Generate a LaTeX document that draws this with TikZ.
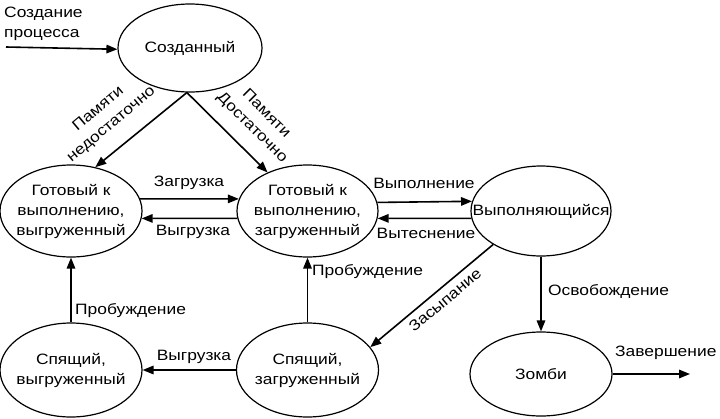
\documentclass[tikz,border=0pt]{standalone}
\usepackage{fontspec}
\setmainfont{Liberation Sans}[FakeStretch=1.16]
\usetikzlibrary{arrows.meta,shapes.geometric}
\newcommand\dfont{\fontsize{15}{20}\selectfont}
\begin{document}
\begin{tikzpicture}[x=1pt,y=-1pt,
  state/.style={ellipse,draw,line width=1.2pt,inner xsep=-40pt,inner ysep=-25pt,align=center,font=\dfont},
  conn/.style={line width=1.6pt,-{Triangle[length=11pt,width=8.5pt]}},
  lab/.style={font=\dfont,inner sep=1pt,align=center}]
\useasboundingbox (0,0) rectangle (720,418);
\fill[white] (0,0) rectangle (720,418);
% states
\node[state,minimum width=144pt,minimum height=88pt] (cr) at (190,48) {Созданный};
\node[state,minimum width=142pt,minimum height=92pt] (rdu) at (71,211) {Готовый к\\выполнению,\\выгруженный};
\node[state,minimum width=141pt,minimum height=92pt] (rdl) at (307.5,211) {Готовый к\\выполнению,\\загруженный};
\node[state,minimum width=140pt,minimum height=90pt] (run) at (541,211) {Выполняющийся};
\node[state,minimum width=142pt,minimum height=94pt] (slu) at (71,370) {Спящий,\\выгруженный};
\node[state,minimum width=142pt,minimum height=94pt] (sll) at (307.5,370) {Спящий,\\загруженный};
\node[state,minimum width=142pt,minimum height=84pt] (zom) at (541,374) {Зомби};
% free ends
\coordinate (st) at (6,47);
\coordinate (zend) at (690,374);
% connectors
\draw[conn] (st) -- (cr.181);
\draw[conn] (cr.266) -- (rdu.61);
\draw[conn] (cr.266) -- (rdl.136);
\draw[conn] (rdu.10) -- (rdl.170);
\draw[conn] (rdl.186) -- (rdu.-6);
\draw[conn] (rdl.7.4) -- (run.172.6);
\draw[conn] (run.186.6) -- (rdl.-6.5);
\draw[conn] (run.215.3) -- (sll.20);
\draw[conn] (run.south) -- (zom.north);
\draw[conn] (zom.east) -- (zend);
\draw[conn] (sll.north) -- (rdl.south);
\draw[conn] (slu.north) -- (rdu.south);
\draw[conn] (sll.west) -- (slu.east);
% labels
\node[lab,anchor=north west,align=left] (lcr) at (3,6) {Создание\\процесса};
\node[lab] (l1) at (105,117) [rotate=40] {Памяти\\недостаточно};
\node[lab] (l2) at (259,121) [rotate=-45] {Памяти\\Достаточно};
\node[lab] (l3) at (189,183) {Загрузка};
\node[lab] (l4) at (193,232) {Выгрузка};
\node[lab] (l5) at (424,183) {Выполнение};
\node[lab] (l6) at (426,233) {Вытеснение};
\node[lab,anchor=west] (l7) at (311,272) {Пробуждение};
\node[lab,anchor=west] (l8) at (74,311) {Пробуждение};
\node[lab] (l9) at (194,357) {Выгрузка};
\node[lab] (l10) at (445,300) [rotate=40] {Засыпание};
\node[lab,anchor=west] (l11) at (547,291) {Освобождение};
\node[lab,anchor=west] (l12) at (614,353) {Завершение};
\end{tikzpicture}
\end{document}
